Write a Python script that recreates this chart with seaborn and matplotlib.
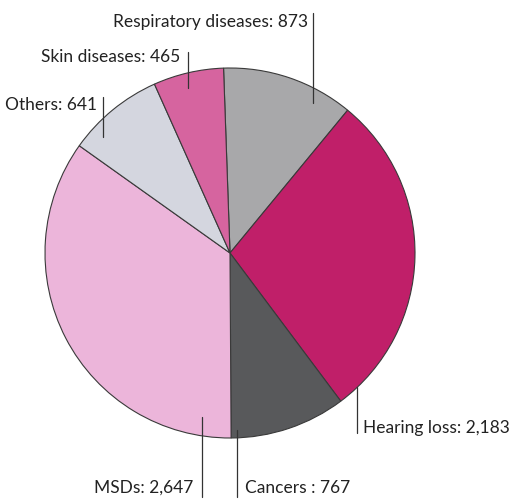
import matplotlib
matplotlib.use("Agg")
import matplotlib.pyplot as plt
import seaborn as sns

# ---------------------------
# Data
# ---------------------------
categories = ["Respiratory diseases", "Hearing loss", "Cancers",
              "MSDs", "Others", "Skin diseases"]
cases = [873, 2183, 767, 2647, 641, 465]
label_texts = ["Respiratory diseases: 873", "Hearing loss: 2,183", "Cancers : 767",
               "MSDs: 2,647", "Others: 641", "Skin diseases: 465"]
colors = ["#a8a8aa", "#c01f69", "#58595b", "#ecb5da", "#d4d6df", "#d6649f"]

# label layout: (line x, line y0, line y1, text x, text y, ha)
layout = [
    (0.449, 0.811, 1.297, 0.422, 1.249, "right"),
    (0.686, -0.724, -0.973, 0.719, -0.946, "left"),
    (0.038, -0.957, -1.319, 0.081, -1.270, "left"),
    (-0.151, -0.886, -1.319, -0.200, -1.270, "right"),
    (-0.686, 0.627, 0.843, -0.719, 0.800, "right"),
    (-0.227, 0.892, 1.086, -0.270, 1.060, "right"),
]

sns.set_theme(style="white")
plt.rcParams["font.family"] = ["Lato", "DejaVu Sans"]

fig = plt.figure(figsize=(5.1, 5.0), dpi=100)
ax = fig.add_axes([0, 0, 1, 1])

ax.pie(cases, colors=colors, startangle=92, counterclock=False,
       radius=1.0, wedgeprops=dict(edgecolor="#3a3a3a", linewidth=0.8))

for (lx, y0, y1, tx, ty, ha), txt in zip(layout, label_texts):
    ax.plot([lx, lx], [y0, y1], color="#333333", linewidth=0.9)
    ax.text(tx, ty, txt, ha=ha, va="center", fontsize=12.5, color="#222222")

# pixel mapping: centre at (230, 253), radius 185 px
ax.set_xlim(-230 / 185, 280 / 185)
ax.set_ylim((253 - 500) / 185, 253 / 185)
ax.set_axis_off()

plt.savefig("out.png")
plt.close()
